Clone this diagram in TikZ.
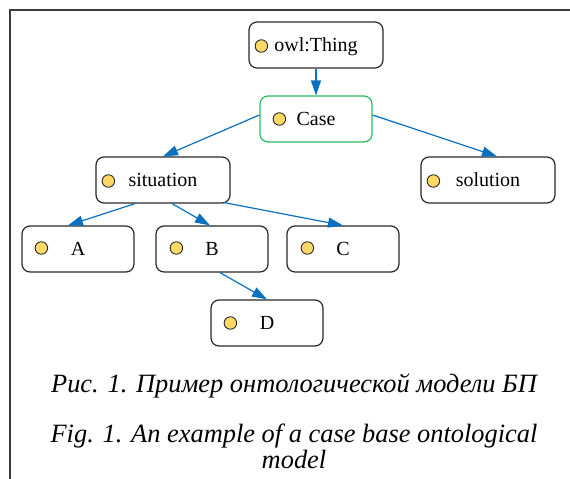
\documentclass[tikz,border=0pt]{standalone}
\usepackage{fontspec}
\setmainfont{Liberation Serif}
\usetikzlibrary{arrows.meta,calc}
\definecolor{edgeblue}{RGB}{10,112,192}
\definecolor{casegreen}{RGB}{40,190,90}
\definecolor{dotyellow}{RGB}{255,216,102}
\definecolor{boxgray}{RGB}{40,40,40}
\definecolor{framegray}{RGB}{60,60,60}
\begin{document}
\begin{tikzpicture}[x=1pt,y=-1pt,
  cls/.style={draw=boxgray, line width=1.2pt, rounded corners=8pt, minimum width=112pt, minimum height=46pt,
    font=\fontsize{20}{24}\selectfont, text height=15.5pt, text depth=3.5pt, inner sep=0pt},
  wide/.style={minimum width=134pt},
  dot/.style={circle, draw=boxgray, line width=0.9pt, fill=dotyellow, minimum size=12.5pt, inner sep=0pt},
  isa/.style={draw=edgeblue, line width=1.2pt, -{Triangle[length=15pt,width=10pt]}},
  captext/.style={font=\fontsize{26.4}{30}\selectfont\itshape, inner sep=0pt}]
\useasboundingbox (0,0) rectangle (570,479);
\draw[framegray, line width=2pt] (10,479) -- (10,10) -- (570,10);

\node[cls,wide] (thing) at (316,45) {owl:Thing};
\node[cls,draw=casegreen] (case) at (316,119) {Case};
\node[cls,wide] (sit) at (163,180) {situation};
\node[cls,wide] (sol) at (488,180) {solution};
\node[cls] (a) at (78,249) {A};
\node[cls] (b) at (212,249) {B};
\node[cls] (c) at (343,249) {C};
\node[cls] (d) at (267,323) {D};

\node[dot] (thingdot) at ($(thing.west)+(13,1)$) {};
\node[dot] (casedot) at ($(case.west)+(20,0)$) {};
\node[dot] (sitdot) at ($(sit.west)+(13,1)$) {};
\node[dot] (soldot) at ($(sol.west)+(13,1)$) {};
\node[dot] (adot) at ($(a.west)+(20,-1)$) {};
\node[dot] (bdot) at ($(b.west)+(21,-1)$) {};
\node[dot] (cdot) at ($(c.west)+(21,-1)$) {};
\node[dot] (ddot) at ($(d.west)+(20,0)$) {};

\draw[isa] (thing.south) -- (case.north);
\draw[isa] ([yshift=4pt]case.west) -- (sit.north);
\draw[isa] ([yshift=4pt]case.east) -- ([xshift=9pt]sol.north);
\draw[isa] ([xshift=-28pt]sit.south) -- ([xshift=-10pt]a.north);
\draw[isa] ([xshift=9pt]sit.south) -- ([xshift=-2pt]b.north);
\draw[isa] ([xshift=61pt,yshift=1pt]sit.south) -- (c.north);
\draw[isa] ([xshift=8pt]b.south) -- (d.north);

\node[captext, anchor=base] (ru) at (294,392) {Рис. 1. Пример онтологической модели БП};
\node[captext, anchor=base] (en1) at (294,442) {Fig. 1. An example of a case base ontological};
\node[captext, anchor=base] (en2) at (294,468) {model};
\end{tikzpicture}
\end{document}
